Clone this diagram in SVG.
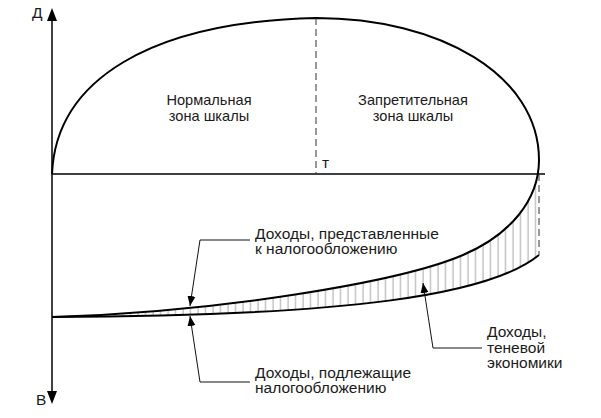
<svg xmlns="http://www.w3.org/2000/svg" width="601" height="418" viewBox="0 0 601 418">
<style>
.t{font-family:"Liberation Sans",Arial,sans-serif;font-size:15.5px;fill:#1a1a1a}
.z{font-size:14.6px;text-anchor:middle}
.curve{fill:none;stroke:#000;stroke-width:2}
.axis{fill:none;stroke:#000;stroke-width:1.5}
.dash{fill:none;stroke:#333;stroke-width:1;stroke-dasharray:7 4}
.lead{fill:none;stroke:#111;stroke-width:1}
</style>
<defs>
<pattern id="hatch" patternUnits="userSpaceOnUse" x="0" y="0" width="7.5" height="10">
<line x1="3" y1="0" x2="3" y2="10" stroke="#999" stroke-width="0.9"/>
</pattern>
<marker id="arr" markerUnits="userSpaceOnUse" markerWidth="12" markerHeight="10" refX="10" refY="5" orient="auto">
<path d="M0,1 L10,5 L0,9 Z" fill="#000"/>
</marker>
</defs>
<rect width="601" height="418" fill="#fff"/>
<g id="hatching">
<path d="M539,160 C539,200 510,235 463,255 C400,282 220,312 50,317 C350,316 490,295 539,255 Z" fill="url(#hatch)"/>
</g>
<g id="axes">
<line class="axis" x1="52" y1="20" x2="52" y2="393"/>
<path d="M52,8 L57,21 L47,21 Z" fill="#000"/>
<path d="M52,404 L57,391 L47,391 Z" fill="#000"/>
<line class="axis" x1="52" y1="174" x2="545" y2="174" stroke-width="1.3"/>
<text class="t" x="32" y="18" font-size="13">Д</text>
<text class="t" x="36" y="405" font-size="14">В</text>
</g>
<g id="curves">
<path class="curve" d="M52,174 C56,80 150,22 316,18 C440,18 539,75 539,160 C539,200 510,235 463,255 C400,282 220,312 52,317"/>
<path class="curve" d="M52,317 C350,316 490,295 539,255"/>
<line class="dash" x1="316" y1="18" x2="316" y2="174"/>
<line class="dash" x1="539" y1="174" x2="539" y2="255" stroke-dasharray="6 3"/>
<text class="t" x="322" y="168" font-size="13">т</text>
</g>
<g id="zone-normal">
<text class="t z" x="209" y="105">Нормальная</text>
<text class="t z" x="209" y="120.5">зона шкалы</text>
</g>
<g id="zone-forbidden">
<text class="t z" x="413" y="105">Запретительная</text>
<text class="t z" x="413" y="120.5">зона шкалы</text>
</g>
<g id="label-declared">
<text class="t" x="255" y="238.5">Доходы, представленные</text>
<text class="t" x="255" y="254">к налогообложению</text>
</g>
<g id="label-taxable">
<text class="t" x="255" y="377.5">Доходы, подлежащие</text>
<text class="t" x="255" y="393">налогообложению</text>
</g>
<g id="label-shadow">
<text class="t" x="487" y="337">Доходы,</text>
<text class="t" x="487" y="352.5">теневой</text>
<text class="t" x="487" y="368">экономики</text>
</g>
<g id="connectors">
<polyline class="lead" points="250,240 200,240 190,306" marker-end="url(#arr)"/>
<polyline class="lead" points="250,382 200,382 190,316" marker-end="url(#arr)"/>
<polyline class="lead" points="482,348 433,348 423,283" marker-end="url(#arr)"/>
</g>
</svg>
